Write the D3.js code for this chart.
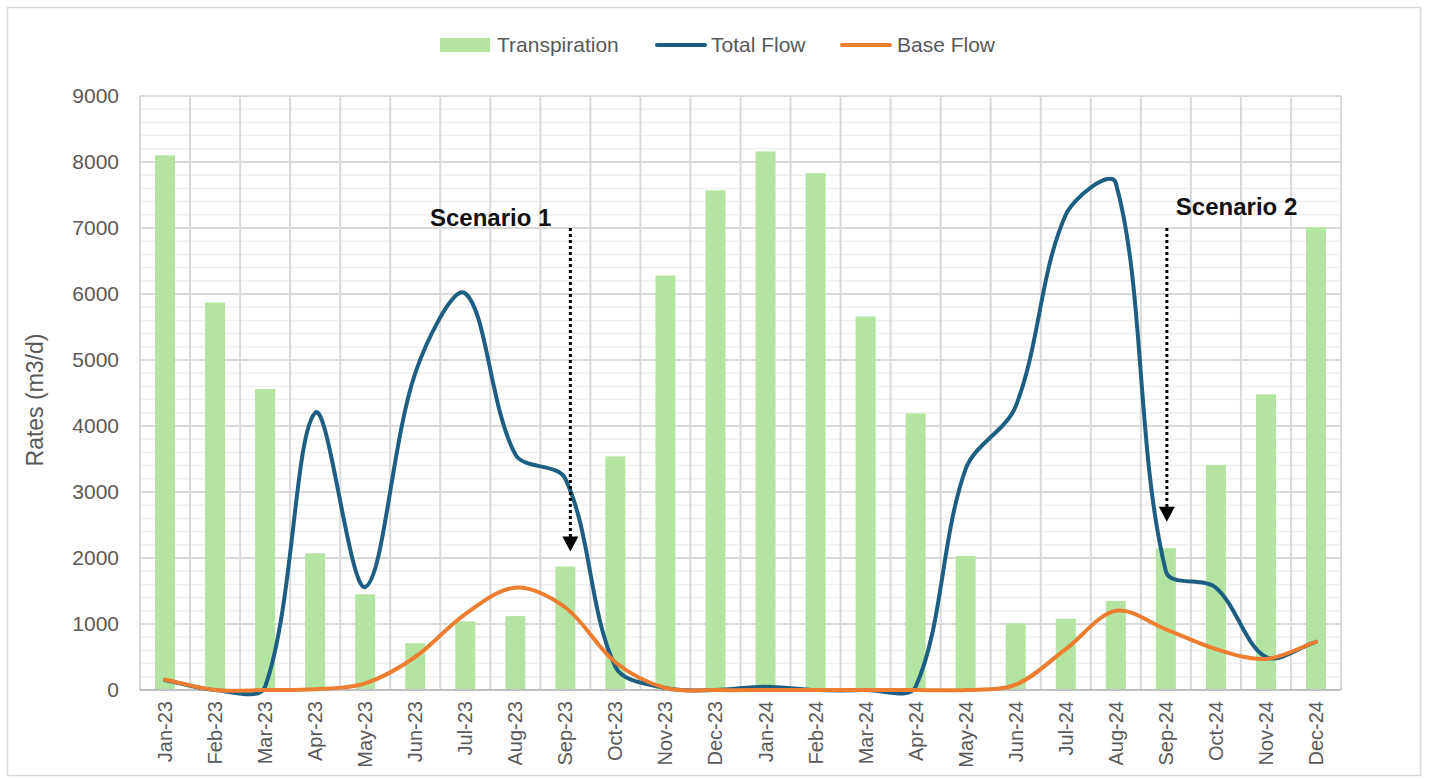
<!DOCTYPE html>
<html><head><meta charset="utf-8">
<script src="https://cdn.jsdelivr.net/npm/d3@7"></script>
<style>
html,body{margin:0;padding:0;background:#fff;}
svg{display:block;font-family:"Liberation Sans",Arial,sans-serif;}
</style></head>
<body>
<svg id="chart" width="1429" height="781"></svg>
<script>
const months = ["Jan-23","Feb-23","Mar-23","Apr-23","May-23","Jun-23","Jul-23","Aug-23","Sep-23","Oct-23","Nov-23","Dec-23",
                "Jan-24","Feb-24","Mar-24","Apr-24","May-24","Jun-24","Jul-24","Aug-24","Sep-24","Oct-24","Nov-24","Dec-24"];
const transpiration = [8100,5870,4560,2070,1450,710,1040,1120,1870,3540,6280,7570,8160,7830,5660,4190,2030,1010,1080,1350,2150,3410,4480,7010];
const totalFlow = [150,0,50,4200,1560,4800,6010,3570,3200,350,30,0,50,0,0,50,3350,4300,7200,7680,1800,1550,500,730];
const baseFlow = [160,0,0,10,100,500,1150,1550,1250,420,30,0,0,0,0,0,0,80,620,1200,920,620,470,730];
const yTicks = [0,1000,2000,3000,4000,5000,6000,7000,8000,9000];
const seriesNames = ["Transpiration","Total Flow","Base Flow"];
const annotations = [
  {label:"Scenario 1", month:"Sep-23", top:7000, bottom:2100},
  {label:"Scenario 2", month:"Sep-24", top:7000, bottom:2550}
];

const colors = {bar:"#b4e4a2", total:"#1c5f82", base:"#ed7d31"};
const svg = d3.select("#chart");
const W = 1429, H = 781;
const m = {left:140, right:88, top:96, bottom:91};

svg.append("rect").attr("x",7.5).attr("y",7.5).attr("width",1413).attr("height",768)
  .attr("fill","#fff").attr("stroke","#d9d9d9").attr("stroke-width",1.5);

const x = d3.scaleBand().domain(months).range([m.left, W-m.right]).paddingInner(0.6).paddingOuter(0.3);
const xStep = x.step();
const y = d3.scaleLinear().domain([0,9000]).range([H-m.bottom, m.top]);

const g = svg.append("g");
const minor = d3.range(0, 9001, 200).filter(v => v % 1000 !== 0);
g.selectAll(".minor").data(minor).join("line")
  .attr("x1", m.left).attr("x2", W-m.right)
  .attr("y1", d=>y(d)).attr("y2", d=>y(d))
  .attr("stroke","#efefef").attr("stroke-width",1.5);
g.selectAll(".major").data(yTicks).join("line")
  .attr("x1", m.left).attr("x2", W-m.right)
  .attr("y1", d=>y(d)).attr("y2", d=>y(d))
  .attr("stroke","#d9d9d9").attr("stroke-width",2);
const bounds = d3.range(months.length+1).map(i => m.left + i*xStep);
g.selectAll(".vg").data(bounds).join("line")
  .attr("x1", d=>d).attr("x2", d=>d)
  .attr("y1", y(9000)).attr("y2", y(0))
  .attr("stroke","#d9d9d9").attr("stroke-width",2);

g.selectAll(".bar").data(months).join("rect")
  .attr("x", d=>x(d)).attr("width", x.bandwidth())
  .attr("y", (d,i)=>y(transpiration[i]))
  .attr("height", (d,i)=>y(0)-y(transpiration[i]))
  .attr("fill", colors.bar);

g.append("line").attr("x1", m.left).attr("x2", W-m.right)
  .attr("y1", y(0)).attr("y2", y(0)).attr("stroke","#bfbfbf").attr("stroke-width",2);

const cx = d => x(d) + x.bandwidth()/2;
// Excel-style smoothed line: Bezier with control arms scaled by segment lengths
function smoothPath(vals) {
  const pts = vals.map((v,i) => [cx(months[i]), y(v)]);
  const p = d3.path();
  const dist = (a,b) => Math.hypot(b[0]-a[0], b[1]-a[1]);
  const f = 1/3;
  p.moveTo(pts[0][0], pts[0][1]);
  for (let i = 0; i < pts.length-1; i++) {
    const p0 = pts[i-1] || pts[i], p1 = pts[i], p2 = pts[i+1], p3 = pts[i+2] || pts[i+1];
    const d01 = dist(p0,p1), d12 = dist(p1,p2), d23 = dist(p2,p3);
    const s1 = d12 / (d01 + d12 || 1), s2 = d12 / (d12 + d23 || 1);
    const c1 = [p1[0] + (p2[0]-p0[0])*f*s1, p1[1] + (p2[1]-p0[1])*f*s1];
    const c2 = [p2[0] - (p3[0]-p1[0])*f*s2, p2[1] - (p3[1]-p1[1])*f*s2];
    p.bezierCurveTo(c1[0], c1[1], c2[0], c2[1], p2[0], p2[1]);
  }
  return p.toString();
}
g.append("path").attr("d", smoothPath(totalFlow)).attr("fill","none")
  .attr("stroke", colors.total).attr("stroke-width",4).attr("stroke-linecap","round").attr("stroke-linejoin","round");
g.append("path").attr("d", smoothPath(baseFlow)).attr("fill","none")
  .attr("stroke", colors.base).attr("stroke-width",4).attr("stroke-linecap","round").attr("stroke-linejoin","round");

g.selectAll(".yt").data(yTicks).join("text")
  .attr("x", m.left-21).attr("y", d=>y(d)).attr("dy","0.35em")
  .attr("text-anchor","end").attr("font-size",21).attr("fill","#595959").text(d=>d);
g.selectAll(".xt").data(months).join("text")
  .attr("transform", d=>`translate(${cx(d)+7},${y(0)+11}) rotate(-90)`)
  .attr("text-anchor","end").attr("font-size",20).attr("fill","#595959").text(d=>d);
svg.append("text").attr("transform", `translate(43,${(y(0)+y(9000))/2+7}) rotate(-90)`)
  .attr("text-anchor","middle").attr("font-size",23).attr("fill","#595959").text("Rates (m3/d)");

annotations.forEach((a, k) => {
  const ax = cx(a.month) + (k === 0 ? 5 : 1);
  g.append("line").attr("x1", ax).attr("x2", ax)
    .attr("y1", y(a.top)).attr("y2", y(a.bottom) - 14)
    .attr("stroke","#000").attr("stroke-width",3).attr("stroke-dasharray","3,3");
  g.append("path")
    .attr("d", `M${ax-8},${y(a.bottom)-15} L${ax+8},${y(a.bottom)-15} L${ax},${y(a.bottom)} Z`)
    .attr("fill","#000");
});
g.append("text").attr("x", cx("Sep-23")-14).attr("y", y(7000)-2).attr("text-anchor","end")
  .attr("font-size",24).attr("font-weight","bold").attr("fill","#111").text(annotations[0].label);
g.append("text").attr("x", cx("Sep-24")+10).attr("y", y(7200)).attr("text-anchor","start")
  .attr("font-size",24).attr("font-weight","bold").attr("fill","#111").text(annotations[1].label);

const lg = svg.append("g").attr("font-size",21).attr("fill","#595959");
const ly = 45;
lg.append("rect").attr("x",440).attr("y",ly-7).attr("width",50).attr("height",14).attr("fill",colors.bar);
lg.append("text").attr("x",497).attr("y",ly).attr("dy","0.35em").text(seriesNames[0]);
lg.append("line").attr("x1",657).attr("x2",705).attr("y1",ly).attr("y2",ly).attr("stroke",colors.total).attr("stroke-width",4).attr("stroke-linecap","round");
lg.append("text").attr("x",711).attr("y",ly).attr("dy","0.35em").text(seriesNames[1]);
lg.append("line").attr("x1",842).attr("x2",890).attr("y1",ly).attr("y2",ly).attr("stroke",colors.base).attr("stroke-width",4).attr("stroke-linecap","round");
lg.append("text").attr("x",897).attr("y",ly).attr("dy","0.35em").text(seriesNames[2]);
</script>
</body></html>
